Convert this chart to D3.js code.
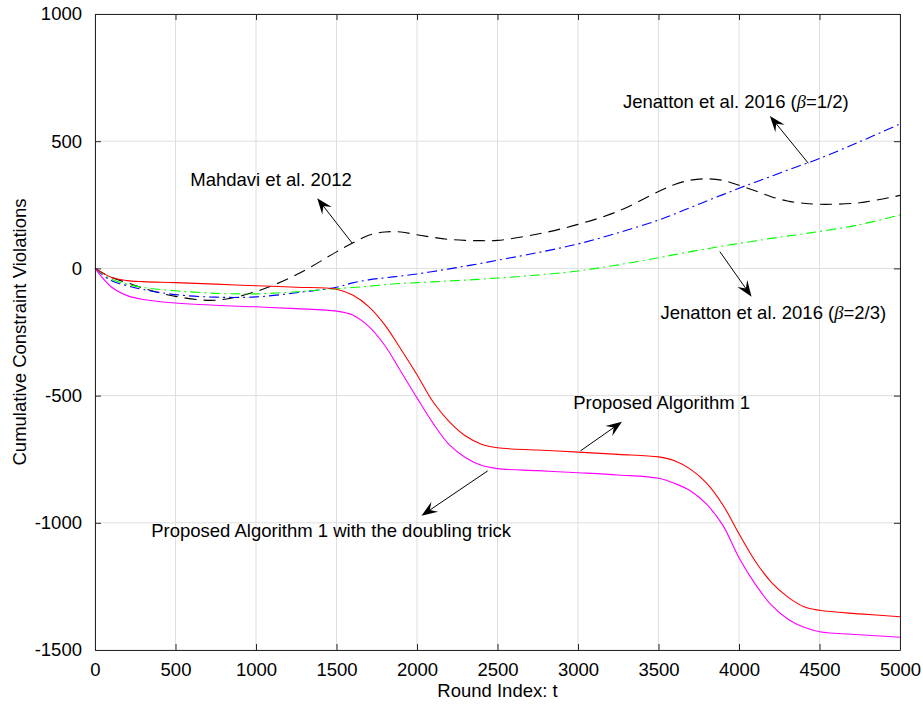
<!DOCTYPE html>
<html>
<head>
<meta charset="utf-8">
<script src="https://cdn.jsdelivr.net/npm/d3@7"></script>
<style>
	body { margin: 0; background: #fff; }
	text { font-family: "Liberation Sans", Arial, Helvetica, sans-serif; fill: #000; }
</style>
</head>
<body>
<div id="wrapper"></div>
<script>
// round index grid shared by every curve
const rounds = [0, 100, 200, 300, 500, 750, 1000, 1250, 1500, 1600, 1700, 1800, 1900, 2000,
	2100, 2200, 2300, 2400, 2500, 2750, 3000, 3250, 3500, 3600, 3700, 3800, 3900, 4000,
	4100, 4200, 4300, 4400, 4500, 4750, 5000];

// cumulative constraint violations
const proposed = [0, -35, -48, -52, -56, -62, -68, -74, -82, -105, -150, -222, -318, -418,
	-525, -602, -658, -691, -705, -714, -722, -731, -741, -756, -790, -845, -930, -1043,
	-1150, -1233, -1290, -1329, -1344, -1358, -1369];
const doubling = [0, -72, -107, -122, -136, -145, -151, -158, -168, -183, -228, -303, -405, -509,
	-609, -693, -743, -774, -787, -795, -803, -812, -825, -845, -875, -928, -1010, -1137,
	-1240, -1323, -1377, -1410, -1428, -1440, -1450];
const mahdavi = [0, -35, -56, -78, -110, -125, -91, -25, 65, 100, 130, 143, 143, 132,
	122, 114, 110, 109, 110, 135, 173, 225, 302, 330, 347, 352, 346, 327,
	305, 282, 265, 256, 252, 258, 287];
const jenattonHalf = [0, -48, -68, -83, -103, -113, -112, -96, -74, -57, -45, -37, -30, -22,
	-12, -2, 9, 20, 32, 62, 96, 140, 190, 214, 240, 265, 290, 315,
	339, 362, 386, 409, 432, 498, 568];
const jenattonTwoThirds = [0, -42, -62, -75, -88, -98, -100, -92, -80, -75, -70, -64, -59, -56,
	-53, -49, -46, -42, -38, -26, -10, 14, 42, 54, 66, 77, 88, 98,
	108, 118, 127, 136, 145, 172, 210];

const xTicks = [0, 500, 1000, 1500, 2000, 2500, 3000, 3500, 4000, 4500, 5000];
const yTicks = [-1500, -1000, -500, 0, 500, 1000];

// annotations: label, text anchor point, arrow tail, arrow tip (data units)
const noteLabels = ["Mahdavi et al. 2012", "Jenatton et al. 2016 (|=1/2)", "Jenatton et al. 2016 (|=2/3)",
	"Proposed Algorithm 1", "Proposed Algorithm 1 with the doubling trick"];
const noteText = [[592, 348], [3279, 655], [3512, -175], [2970, -529], [349, -1032]];
const noteTail = [[1598, 99], [4431, 413], [3881, 66], [3016, -717], [2439, -796]];
const noteTip = [[1380, 276], [4192, 599], [4078, -111], [3273, -603], [2028, -972]];

function drawChart() {
	const width = 923;
	const height = 710;
	const margin = {left: 95, top: 14, right: 23, bottom: 60};

	const svg = d3.select("#wrapper")
		.append("svg")
		.attr("width", width)
		.attr("height", height);

	const xScale = d3.scaleLinear()
		.domain([0, 5000])
		.range([margin.left, width - margin.right]);
	const yScale = d3.scaleLinear()
		.domain([-1500, 1000])
		.range([height - margin.bottom, margin.top]);

	const x0 = xScale.range()[0], x1 = xScale.range()[1];
	const y0 = yScale.range()[0], y1 = yScale.range()[1];

	// grid
	const grid = svg.append("g").attr("stroke", "#dfdfdf").attr("stroke-width", 1);
	grid.selectAll(".gx").data(xTicks).enter().append("line")
		.attr("x1", d => xScale(d)).attr("x2", d => xScale(d))
		.attr("y1", y0).attr("y2", y1);
	grid.selectAll(".gy").data(yTicks).enter().append("line")
		.attr("x1", x0).attr("x2", x1)
		.attr("y1", d => yScale(d)).attr("y2", d => yScale(d));

	// curves
	const series = [
		{v: mahdavi, color: "#000000", dash: "12,7"},
		{v: jenattonHalf, color: "#0000ff", dash: "10,4,2,4"},
		{v: jenattonTwoThirds, color: "#00ff00", dash: "10,4,2,4"},
		{v: proposed, color: "#ff0000", dash: null},
		{v: doubling, color: "#ff00ff", dash: null}
	];
	const line = d3.line()
		.x((d, i) => xScale(rounds[i]))
		.y(d => yScale(d))
		.curve(d3.curveCatmullRom.alpha(0.5));

	svg.append("g").selectAll("path")
		.data(series)
		.enter().append("path")
		.attr("d", d => line(d.v))
		.attr("fill", "none")
		.attr("stroke", d => d.color)
		.attr("stroke-width", 1.1)
		.attr("stroke-dasharray", d => d.dash);

	// axes, MATLAB style box with inward ticks
	const axisCol = "#262626";
	const fmt = d => String(d);
	const xAxis = d3.axisBottom(xScale).tickValues(xTicks).tickFormat(fmt).tickSizeInner(-6).tickSizeOuter(0).tickPadding(13);
	const yAxis = d3.axisLeft(yScale).tickValues(yTicks).tickFormat(fmt).tickSizeInner(-6).tickSizeOuter(0).tickPadding(13);
	const gx = svg.append("g").attr("transform", `translate(0,${y0})`).call(xAxis);
	const gy = svg.append("g").attr("transform", `translate(${x0},0)`).call(yAxis);
	const gxt = svg.append("g").attr("transform", `translate(0,${y1})`)
		.call(d3.axisTop(xScale).tickValues(xTicks).tickSizeInner(-6).tickSizeOuter(0).tickFormat(""));
	const gyr = svg.append("g").attr("transform", `translate(${x1},0)`)
		.call(d3.axisRight(yScale).tickValues(yTicks).tickSizeInner(-6).tickSizeOuter(0).tickFormat(""));
	[gx, gy, gxt, gyr].forEach(g => {
		g.selectAll("path").attr("stroke", axisCol);
		g.selectAll("line").attr("stroke", axisCol);
		g.selectAll("text")
			.attr("fill", "#262626")
			.style("font-family", "'Liberation Sans', Arial, Helvetica, sans-serif")
			.style("font-size", "18.5px");
	});
	gx.selectAll("text").attr("dy", "0.71em");

	// axis labels
	svg.append("text")
		.attr("x", (x0 + x1) / 2)
		.attr("y", 697)
		.attr("text-anchor", "middle")
		.style("font-size", "18.5px")
		.attr("fill", "#262626")
		.text("Round Index: t");
	svg.append("text")
		.attr("transform", `translate(26,${(y0 + y1) / 2}) rotate(-90)`)
		.attr("text-anchor", "middle")
		.style("font-size", "18.5px")
		.attr("fill", "#262626")
		.text("Cumulative Constraint Violations");

	// annotations
	const notes = svg.append("g");
	noteLabels.forEach((lab, i) => {
		const t = notes.append("text")
			.attr("x", xScale(noteText[i][0]))
			.attr("y", yScale(noteText[i][1]))
			.attr("dy", "0.35em")
			.style("font-size", "18.5px");
		const parts = lab.split("|");
		t.append("tspan").text(parts[0]);
		if (parts.length > 1) {
			t.append("tspan")
				.style("font-family", "'Liberation Serif', 'DejaVu Serif', serif")
				.style("font-style", "italic")
				.text("\u03B2");
			t.append("tspan").text(parts[1]);
		}

		const ax = xScale(noteTail[i][0]), ay = yScale(noteTail[i][1]);
		const bx = xScale(noteTip[i][0]), by = yScale(noteTip[i][1]);
		const ang = Math.atan2(by - ay, bx - ax);
		const headLen = 16, headW = 6;
		const ux = Math.cos(ang), uy = Math.sin(ang);
		const px = -uy, py = ux;
		notes.append("line")
			.attr("x1", ax).attr("y1", ay)
			.attr("x2", bx - ux * headLen * 0.6).attr("y2", by - uy * headLen * 0.6)
			.attr("stroke", "#000").attr("stroke-width", 1);
		const pts = [
			[bx, by],
			[bx - ux * headLen + px * headW, by - uy * headLen + py * headW],
			[bx - ux * headLen * 0.62, by - uy * headLen * 0.62],
			[bx - ux * headLen - px * headW, by - uy * headLen - py * headW]
		];
		notes.append("path")
			.attr("d", "M" + pts.map(p => p.join(",")).join("L") + "Z")
			.attr("fill", "#000");
	});
}
drawChart();
</script>
</body>
</html>
